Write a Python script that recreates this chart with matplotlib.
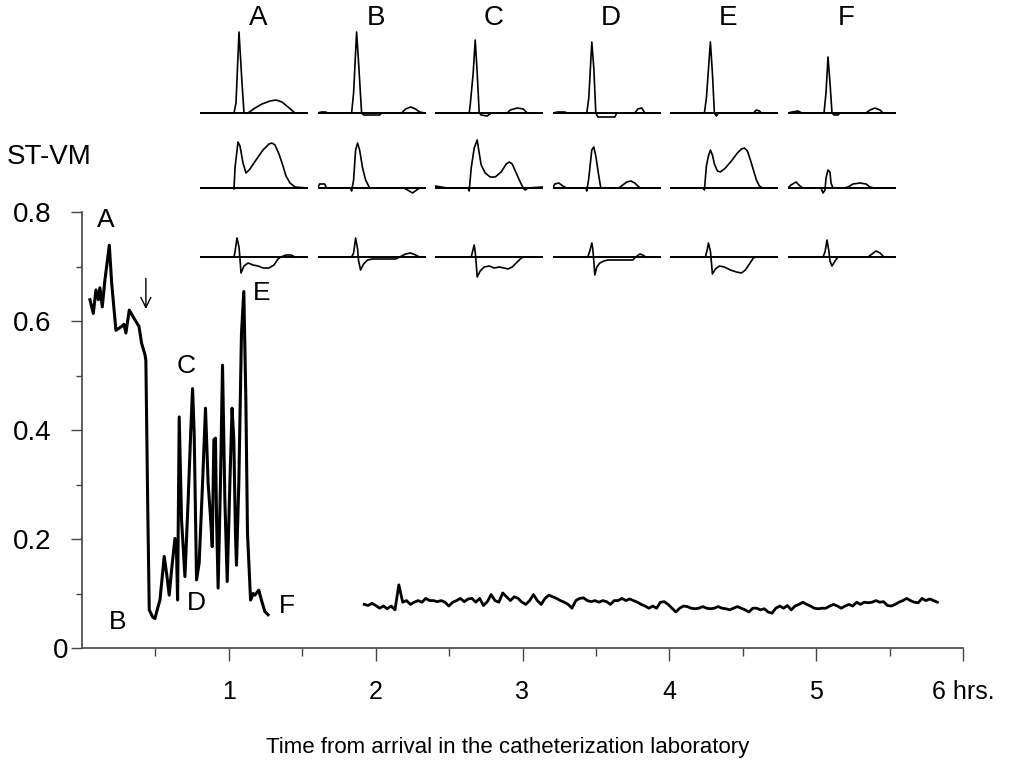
import matplotlib.pyplot as plt
import matplotlib.transforms as mtransforms
import numpy as np

plt.rcParams["font.family"] = ["Liberation Sans", "DejaVu Sans"]

# ST vector magnitude during the first 1.3 h (hours, mV)
early_t = [0.054, 0.077, 0.095, 0.111, 0.122, 0.138, 0.156, 0.186, 0.202, 0.231,
           0.270, 0.286, 0.299, 0.322, 0.354, 0.388, 0.406, 0.429, 0.435, 0.447,
           0.458, 0.481, 0.497, 0.515, 0.531, 0.560, 0.576, 0.594, 0.610, 0.633,
           0.644, 0.651, 0.662, 0.678, 0.701, 0.723, 0.741, 0.753, 0.764, 0.780,
           0.798, 0.821, 0.841, 0.859, 0.875, 0.887, 0.898, 0.909, 0.916, 0.927,
           0.943, 0.957, 0.973, 0.989, 1.007, 1.022, 1.034, 1.045, 1.052, 1.068,
           1.086, 1.102, 1.116, 1.127, 1.148, 1.166, 1.177, 1.204, 1.222, 1.245,
           1.267]
early_v = [0.639, 0.614, 0.657, 0.639, 0.661, 0.626, 0.675, 0.739, 0.670, 0.583,
           0.590, 0.594, 0.578, 0.620, 0.605, 0.590, 0.559, 0.538, 0.528, 0.272,
           0.070, 0.057, 0.054, 0.073, 0.088, 0.168, 0.137, 0.097, 0.143, 0.201,
           0.174, 0.088, 0.424, 0.235, 0.131, 0.272, 0.400, 0.476, 0.394, 0.125,
           0.156, 0.302, 0.440, 0.302, 0.241, 0.186, 0.382, 0.385, 0.241, 0.110,
           0.302, 0.519, 0.272, 0.122, 0.302, 0.440, 0.382, 0.211, 0.152, 0.302,
           0.577, 0.654, 0.455, 0.211, 0.088, 0.100, 0.097, 0.106, 0.088, 0.067,
           0.061]

# continuous recording from ~1.9 h onwards, sampled every 0.0262 h
late_start = 1.922
late_step = 0.0262
late_v = [0.080, 0.078, 0.082, 0.078,
          0.073, 0.077, 0.072, 0.077, 0.070, 0.116, 0.084, 0.087, 0.080, 0.084,
          0.087, 0.084, 0.091, 0.087, 0.087, 0.085, 0.087, 0.084, 0.077, 0.084,
          0.087, 0.091, 0.085, 0.090, 0.091, 0.084, 0.091, 0.078, 0.085, 0.098,
          0.087, 0.084, 0.101, 0.094, 0.087, 0.094, 0.091, 0.084, 0.080, 0.087,
          0.098, 0.087, 0.080, 0.091, 0.097, 0.094, 0.091, 0.087, 0.084, 0.080,
          0.073, 0.087, 0.091, 0.092, 0.087, 0.085, 0.087, 0.084, 0.087, 0.085,
          0.080, 0.087, 0.087, 0.091, 0.087, 0.090, 0.087, 0.084, 0.080, 0.077,
          0.073, 0.077, 0.073, 0.084, 0.085, 0.080, 0.073, 0.066, 0.073, 0.077,
          0.076, 0.073, 0.072, 0.073, 0.076, 0.073, 0.072, 0.073, 0.076, 0.073,
          0.072, 0.070, 0.073, 0.076, 0.073, 0.070, 0.066, 0.073, 0.073, 0.070,
          0.072, 0.066, 0.064, 0.073, 0.077, 0.073, 0.078, 0.070, 0.077, 0.080,
          0.084, 0.080, 0.077, 0.073, 0.072, 0.073, 0.073, 0.077, 0.080, 0.077,
          0.073, 0.077, 0.080, 0.077, 0.084, 0.080, 0.084, 0.083, 0.084, 0.087,
          0.084, 0.085, 0.078, 0.077, 0.080, 0.084, 0.087, 0.091, 0.087, 0.084,
          0.083, 0.091, 0.087, 0.090, 0.087, 0.084]

# event markers on the trend curve
event_labels = ["A", "B", "C", "D", "E", "F"]
event_t = [0.163, 0.245, 0.707, 0.782, 1.224, 1.395]
event_v = [0.785, 0.048, 0.517, 0.083, 0.651, 0.077]
arrow_t = 0.435
arrow_v = (0.683, 0.617)

x_ticks = [1, 2, 3, 4, 5, 6]
x_ticklabels = ["1", "2", "3", "4", "5", "6 hrs."]
y_ticks = [0, 0.2, 0.4, 0.6, 0.8]
y_ticklabels = ["0", "0.2", "0.4", "0.6", "0.8"]

# averaged beats for each event, three leads each: (sample, amplitude)
beat_A = [
    [(0, 0), (34, 0), (36, 10), (39, 81), (42, 30), (44, 0), (48, 0), (55, 5), (62, 9),
     (70, 12), (76, 13), (82, 11), (88, 6), (95, 0), (107, 0)],
    [(0, 0), (33, 0), (34, -1), (35, 20), (38, 46), (40, 42), (43, 25), (46, 15), (50, 19),
     (56, 28), (63, 38), (69, 44), (72, 45), (75, 43), (79, 34), (83, 22), (86, 12),
     (90, 5), (95, 1), (107, 0)],
    [(0, 0), (34, 0), (35, 5), (37, 19), (39, 10), (40, -2), (41, -16), (44, -9), (48, -6),
     (53, -8), (58, -9), (63, -11), (69, -11), (74, -8), (78, -2), (81, 0), (86, 2),
     (91, 2), (95, 0), (107, 0)],
]
beat_B = [
    [(0, 0), (4, 1), (8, 1), (10, 0), (34, 0), (36, 20), (39, 81), (41, 50), (44, 0),
     (46, -2), (62, -2), (64, 0), (84, 0), (88, 4), (93, 6), (98, 4), (102, 1), (107, 0)],
    [(0, 0), (2, 4), (7, 4), (9, 0), (33, 0), (34, -3), (36, 8), (38, 38), (40, 45),
     (42, 38), (45, 20), (48, 8), (52, 0), (86, 0), (90, -2), (95, -5), (99, -2),
     (102, 0), (107, 0)],
    [(0, 0), (34, 0), (36, 4), (38, 19), (40, 8), (41, -4), (43, -13), (46, -7), (50, -3),
     (55, -2), (78, -2), (82, 0), (88, 3), (93, 4), (98, 2), (102, 0), (107, 0)],
]
beat_C = [
    [(0, 0), (34, 0), (35, 8), (38, 40), (40, 73), (42, 40), (44, 0), (46, -2), (52, -3),
     (56, 0), (72, 0), (75, 3), (82, 5), (88, 4), (92, 0), (107, 0)],
    [(0, 2), (6, 1), (12, 0), (33, 0), (34, -3), (36, 20), (39, 40), (42, 48), (44, 35),
     (46, 23), (50, 15), (55, 11), (60, 11), (66, 16), (71, 24), (74, 26), (77, 24),
     (81, 15), (85, 6), (88, 0), (90, -2), (93, 0), (107, 1)],
    [(0, 0), (36, 0), (37, 4), (39, 12), (40, 5), (41, -6), (42, -20), (45, -14), (49, -10),
     (54, -9), (59, -11), (64, -10), (69, -11), (73, -12), (77, -10), (81, -6), (85, -2),
     (88, 0), (107, 0)],
]
beat_D = [
    [(0, 0), (5, 1), (12, 1), (14, 0), (34, 0), (36, 15), (39, 71), (41, 45), (43, 0),
     (45, -4), (62, -4), (64, 0), (82, 0), (85, 4), (89, 5), (92, 0), (107, 0)],
    [(0, 0), (2, 4), (6, 5), (10, 2), (14, 0), (33, 0), (34, -3), (36, 10), (39, 38),
     (41, 41), (43, 32), (46, 12), (48, 0), (66, 0), (70, 3), (74, 6), (78, 7), (82, 5),
     (86, 1), (88, 0), (107, 0)],
    [(0, 0), (35, 0), (37, 6), (39, 14), (40, 8), (41, -4), (42, -18), (44, -10), (47, -6),
     (51, -4), (55, -3), (80, -3), (83, 0), (87, 3), (90, 2), (93, 0), (107, 0)],
]
beat_E = [
    [(0, 0), (34, 0), (36, 15), (40, 71), (42, 40), (44, 0), (46, -3), (48, 0), (83, 0),
     (86, 3), (89, 2), (91, 0), (107, 0)],
    [(0, 0), (33, 0), (34, -2), (36, 22), (38, 32), (40, 38), (42, 33), (44, 24), (47, 17),
     (50, 16), (55, 20), (61, 27), (67, 35), (71, 39), (74, 40), (77, 37), (80, 28),
     (83, 18), (86, 8), (89, 2), (92, 0), (107, 0)],
    [(0, 0), (35, 0), (37, 8), (38, 14), (40, 6), (41, -5), (42, -17), (45, -12), (49, -9),
     (54, -10), (60, -13), (66, -15), (71, -16), (75, -13), (79, -7), (83, -1), (86, 0),
     (107, 0)],
]
beat_F = [
    [(0, 0), (4, 1), (10, 2), (14, 0), (36, 0), (38, 20), (40, 56), (42, 30), (44, 0),
     (46, -2), (50, -2), (52, 0), (78, 0), (82, 3), (87, 5), (92, 3), (95, 0), (107, 0)],
    [(0, 0), (3, 3), (8, 6), (12, 2), (15, 0), (33, 0), (35, -5), (37, -2), (38, 10),
     (40, 18), (42, 16), (43, 5), (45, 0), (56, 0), (60, 1), (65, 4), (72, 5), (78, 4),
     (82, 1), (86, 0), (107, 0)],
    [(0, 0), (35, 0), (37, 5), (39, 17), (41, 5), (42, -4), (44, -9), (47, -4), (50, 0),
     (80, 0), (84, 3), (88, 6), (92, 4), (96, 0), (107, 0)],
]
beats = [beat_A, beat_B, beat_C, beat_D, beat_E, beat_F]

W, H = 1010, 768
fig = plt.figure(figsize=(W / 100, H / 100), dpi=100, facecolor="white")

# main trend axes
ax = fig.add_axes([82 / W, 120 / H, 881 / W, 436 / H])
ax.plot(early_t, early_v, color="black", lw=2.2, solid_joinstyle="round")
late_t = late_start + late_step * np.arange(len(late_v))
ax.plot(late_t, late_v, color="black", lw=2.0, solid_joinstyle="round")

ax.set_xlim(0, 6)
ax.set_ylim(0, 0.8)
for side in ["top", "right"]:
    ax.spines[side].set_visible(False)
for side in ["left", "bottom"]:
    ax.spines[side].set_color("#444444")
    ax.spines[side].set_linewidth(1.2)
ax.spines["left"].set_bounds(0, 0.8)
ax.spines["bottom"].set_bounds(0, 6)

ax.set_xticks(x_ticks)
ax.set_xticklabels(x_ticklabels)
ax.set_xticks(np.arange(0.5, 6, 1.0), minor=True)
ax.set_yticks(y_ticks)
ax.set_yticklabels(y_ticklabels)
ax.set_yticks([0.1, 0.3, 0.5, 0.7], minor=True)
ax.tick_params(axis="x", which="major", length=9, width=1, color="#444444",
               pad=14, labelsize=18)
ax.tick_params(axis="x", which="minor", length=6, width=1, color="#444444")
ax.tick_params(axis="y", which="major", length=8, width=1, color="#444444",
               pad=14, labelsize=20)
ax.tick_params(axis="y", which="minor", length=4, width=1, color="#444444")

# the origin label sits closer to the axis
zero = ax.get_yticklabels()[0]
zero.set_transform(zero.get_transform() + mtransforms.ScaledTranslation(17 / 100, 0, fig.dpi_scale_trans))

for lab, t, v in zip(event_labels, event_t, event_v):
    ax.text(t, v, lab, fontsize=19, ha="center", va="center")
ax.annotate("", xy=(arrow_t, arrow_v[1]), xytext=(arrow_t, arrow_v[0]),
            arrowprops=dict(arrowstyle="->", lw=1.0, color="black", mutation_scale=18))

# averaged beats above the trend
col_left = 200
col_step = 117.6
row_base = [113, 188, 257]
for c, beat in enumerate(beats):
    left = col_left + col_step * c
    fig.text((left + 58) / W, 1 - 18 / H, event_labels[c], fontsize=20,
             ha="center", va="center")
    for r, lead in enumerate(beat):
        base = row_base[r]
        bx = fig.add_axes([left / W, 1 - (base + 25) / H, 108 / W, 110 / H])
        bx.set_xlim(0, 108)
        bx.set_ylim(-25, 85)
        bx.axis("off")
        bx.patch.set_alpha(0)
        bx.axhline(0, xmin=0, xmax=1, color="black", lw=1.4)
        xs = [p[0] for p in lead]
        ys = [p[1] for p in lead]
        bx.plot(xs, ys, color="black", lw=1.2)

fig.text(7 / W, 1 - 157 / H, "ST-VM", fontsize=20, ha="left", va="center")
fig.text(508 / W, 1 - 747 / H, "Time from arrival in the catheterization laboratory",
         fontsize=16, ha="center", va="center")

fig.savefig("out.png", dpi=100, facecolor="white")
